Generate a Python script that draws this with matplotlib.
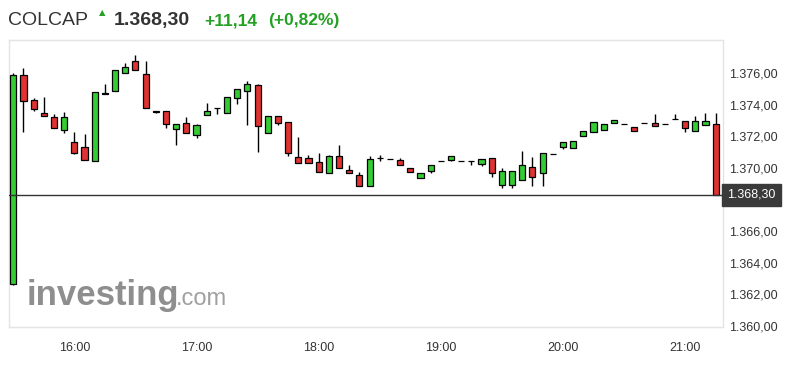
import numpy as np
import matplotlib
matplotlib.use("Agg")
import matplotlib.pyplot as plt
import matplotlib.transforms as mtransforms

plt.rcParams["font.family"] = ["Liberation Sans", "DejaVu Sans"]

# 5-minute candles from 15:30
opens = [1362.65, 1375.86, 1374.28, 1373.46, 1373.25, 1372.41, 1371.61, 1371.34, 1370.46, 1374.72,
         1374.86, 1375.98, 1376.80, 1375.92, 1373.58, 1373.60, 1372.45, 1372.83, 1372.09, 1373.35,
         1373.80, 1373.50, 1374.40, 1374.87, 1375.23, 1372.20, 1373.29, 1372.91, 1370.71, 1370.63,
         1370.39, 1369.68, 1370.77, 1369.89, 1369.56, 1368.82, 1370.63, 1370.55, 1370.52, 1370.02,
         1369.35, 1369.80, 1370.42, 1370.51, 1370.46, 1370.46, 1370.24, 1370.60, 1368.89, 1368.94,
         1369.20, 1370.08, 1369.70, 1370.90, 1371.30, 1371.26, 1372.04, 1372.29, 1372.39, 1372.83,
         1372.77, 1372.61, 1372.83, 1372.83, 1372.77, 1373.10, 1373.00, 1372.35, 1372.69, 1372.80]
highs = [1376.00, 1376.33, 1374.44, 1374.50, 1373.40, 1373.54, 1372.30, 1372.14, 1374.80, 1375.29,
         1376.20, 1376.65, 1377.18, 1376.76, 1373.60, 1373.60, 1372.80, 1373.23, 1372.80, 1374.13,
         1373.80, 1374.50, 1375.00, 1375.50, 1375.30, 1373.30, 1373.30, 1372.91, 1371.97, 1370.82,
         1370.94, 1370.80, 1371.46, 1370.18, 1369.76, 1370.73, 1370.80, 1370.55, 1370.62, 1370.02,
         1369.70, 1370.20, 1370.42, 1370.72, 1370.46, 1370.46, 1370.55, 1370.60, 1370.00, 1369.83,
         1371.07, 1370.66, 1370.96, 1370.90, 1371.61, 1371.72, 1372.35, 1372.92, 1372.77, 1373.04,
         1372.77, 1372.61, 1372.83, 1373.39, 1372.77, 1373.39, 1373.00, 1373.26, 1373.45, 1373.45]
lows = [1362.60, 1372.28, 1373.59, 1373.29, 1372.50, 1372.24, 1370.90, 1370.50, 1370.46, 1374.65,
        1374.86, 1375.98, 1376.20, 1373.80, 1373.45, 1372.50, 1371.46, 1372.20, 1371.90, 1373.35,
        1373.44, 1373.50, 1374.03, 1372.70, 1371.00, 1372.20, 1372.72, 1370.77, 1370.29, 1370.30,
        1369.76, 1369.68, 1369.97, 1369.68, 1368.88, 1368.82, 1370.46, 1370.55, 1370.16, 1369.76,
        1369.35, 1369.67, 1370.42, 1370.42, 1370.46, 1370.19, 1370.13, 1369.42, 1368.75, 1368.71,
        1369.20, 1368.83, 1368.83, 1370.90, 1371.20, 1371.26, 1372.04, 1372.29, 1372.39, 1372.83,
        1372.77, 1372.35, 1372.83, 1372.68, 1372.77, 1373.10, 1372.25, 1372.35, 1372.69, 1368.30]
closes = [1375.90, 1374.24, 1373.75, 1373.29, 1372.52, 1373.23, 1370.92, 1370.52, 1374.80, 1374.70,
          1376.17, 1376.38, 1376.23, 1373.81, 1373.56, 1372.77, 1372.77, 1372.24, 1372.70, 1373.60,
          1373.80, 1374.50, 1375.00, 1375.29, 1372.66, 1373.29, 1372.83, 1370.92, 1370.29, 1370.31,
          1369.76, 1370.77, 1369.97, 1369.68, 1368.88, 1370.56, 1370.63, 1370.55, 1370.16, 1369.76,
          1369.70, 1370.20, 1370.42, 1370.72, 1370.46, 1370.46, 1370.55, 1369.70, 1369.83, 1369.83,
          1370.19, 1369.45, 1370.96, 1370.90, 1371.61, 1371.72, 1372.35, 1372.92, 1372.77, 1373.04,
          1372.77, 1372.35, 1372.83, 1372.68, 1372.77, 1373.10, 1372.55, 1373.00, 1373.00, 1368.30]

last_price = 1368.30
tick_labels = ["16:00", "17:00", "18:00", "19:00", "20:00", "21:00"]
tick_minutes = [30, 90, 150, 210, 270, 330]  # minutes after 15:30
y_ticks = [1360, 1362, 1364, 1366, 1370, 1372, 1374, 1376]

GREEN = "#33cc33"
RED = "#e03232"
TXT_GREEN = "#24a024"

o = np.array(opens)
h = np.array(highs)
l = np.array(lows)
c = np.array(closes)
x = np.arange(len(o)) * 5.0

fig = plt.figure(figsize=(7.95, 3.82), dpi=100)
ax = fig.add_axes([9 / 795, 1 - 326.5 / 382, (723 - 9) / 795, (326.5 - 40) / 382])

colors = np.where(c > o, GREEN, np.where(c < o, RED, "#5a2a2a"))
ax.vlines(x, l, h, color="black", lw=1.0, zorder=2)
ax.bar(x, np.abs(c - o), bottom=np.minimum(o, c), width=3.0, color=colors,
       edgecolor="black", linewidth=0.9, zorder=3)

ax.axhline(last_price, color="#333333", lw=1.0, zorder=4)

ax.set_xlim(-2.1, 348.6)
ax.set_ylim(1359.95, 1378.1)

ax.yaxis.tick_right()
ax.set_yticks(y_ticks)
ax.set_yticklabels([f"{v:,.2f}".replace(",", "X").replace(".", ",").replace("X", ".") for v in y_ticks])
ax.set_xticks(tick_minutes)
ax.set_xticklabels(tick_labels)
ax.tick_params(axis="y", length=0, pad=4.5, labelsize=9, labelcolor="#333333")
ax.tick_params(axis="x", length=0, pad=11, labelsize=9, labelcolor="#333333")

for s in ax.spines.values():
    s.set_color("#e4e4e4")
    s.set_linewidth(1.0)

# last price tag
trans = mtransforms.blended_transform_factory(ax.transAxes, ax.transData)
ax.text(1.006, last_price, "1.368,30", transform=trans, ha="left", va="center",
        fontsize=9, color="white",
        bbox=dict(boxstyle="square,pad=0.4", fc="#3a3a3a", ec="#3a3a3a"))

# watermark
ax.text(0.025, 0.075, "investing", transform=ax.transAxes, fontsize=25, fontweight="bold",
        color="#8e8e8e", ha="left", va="baseline", zorder=1)
ax.text(0.234, 0.075, ".com", transform=ax.transAxes, fontsize=17,
        color="#a0a0a0", ha="left", va="baseline", zorder=1)

# header
fy = 1 - 25 / 382
fig.text(8 / 795, fy, "COLCAP", fontsize=14, color="#333333", va="baseline")
fig.text(102 / 795, 1 - 13 / 382, "▲", fontsize=6, color=TXT_GREEN, ha="center", va="center",
         family="DejaVu Sans")
fig.text(114 / 795, fy, "1.368,30", fontsize=14, fontweight="bold", color="#333333", va="baseline")
fig.text(204 / 795, fy, "+11,14", fontsize=12.5, fontweight="bold", color=TXT_GREEN, va="baseline")
fig.text(268 / 795, fy, "(+0,82%)", fontsize=12.5, fontweight="bold", color=TXT_GREEN, va="baseline")

fig.savefig("out.png", dpi=100)
